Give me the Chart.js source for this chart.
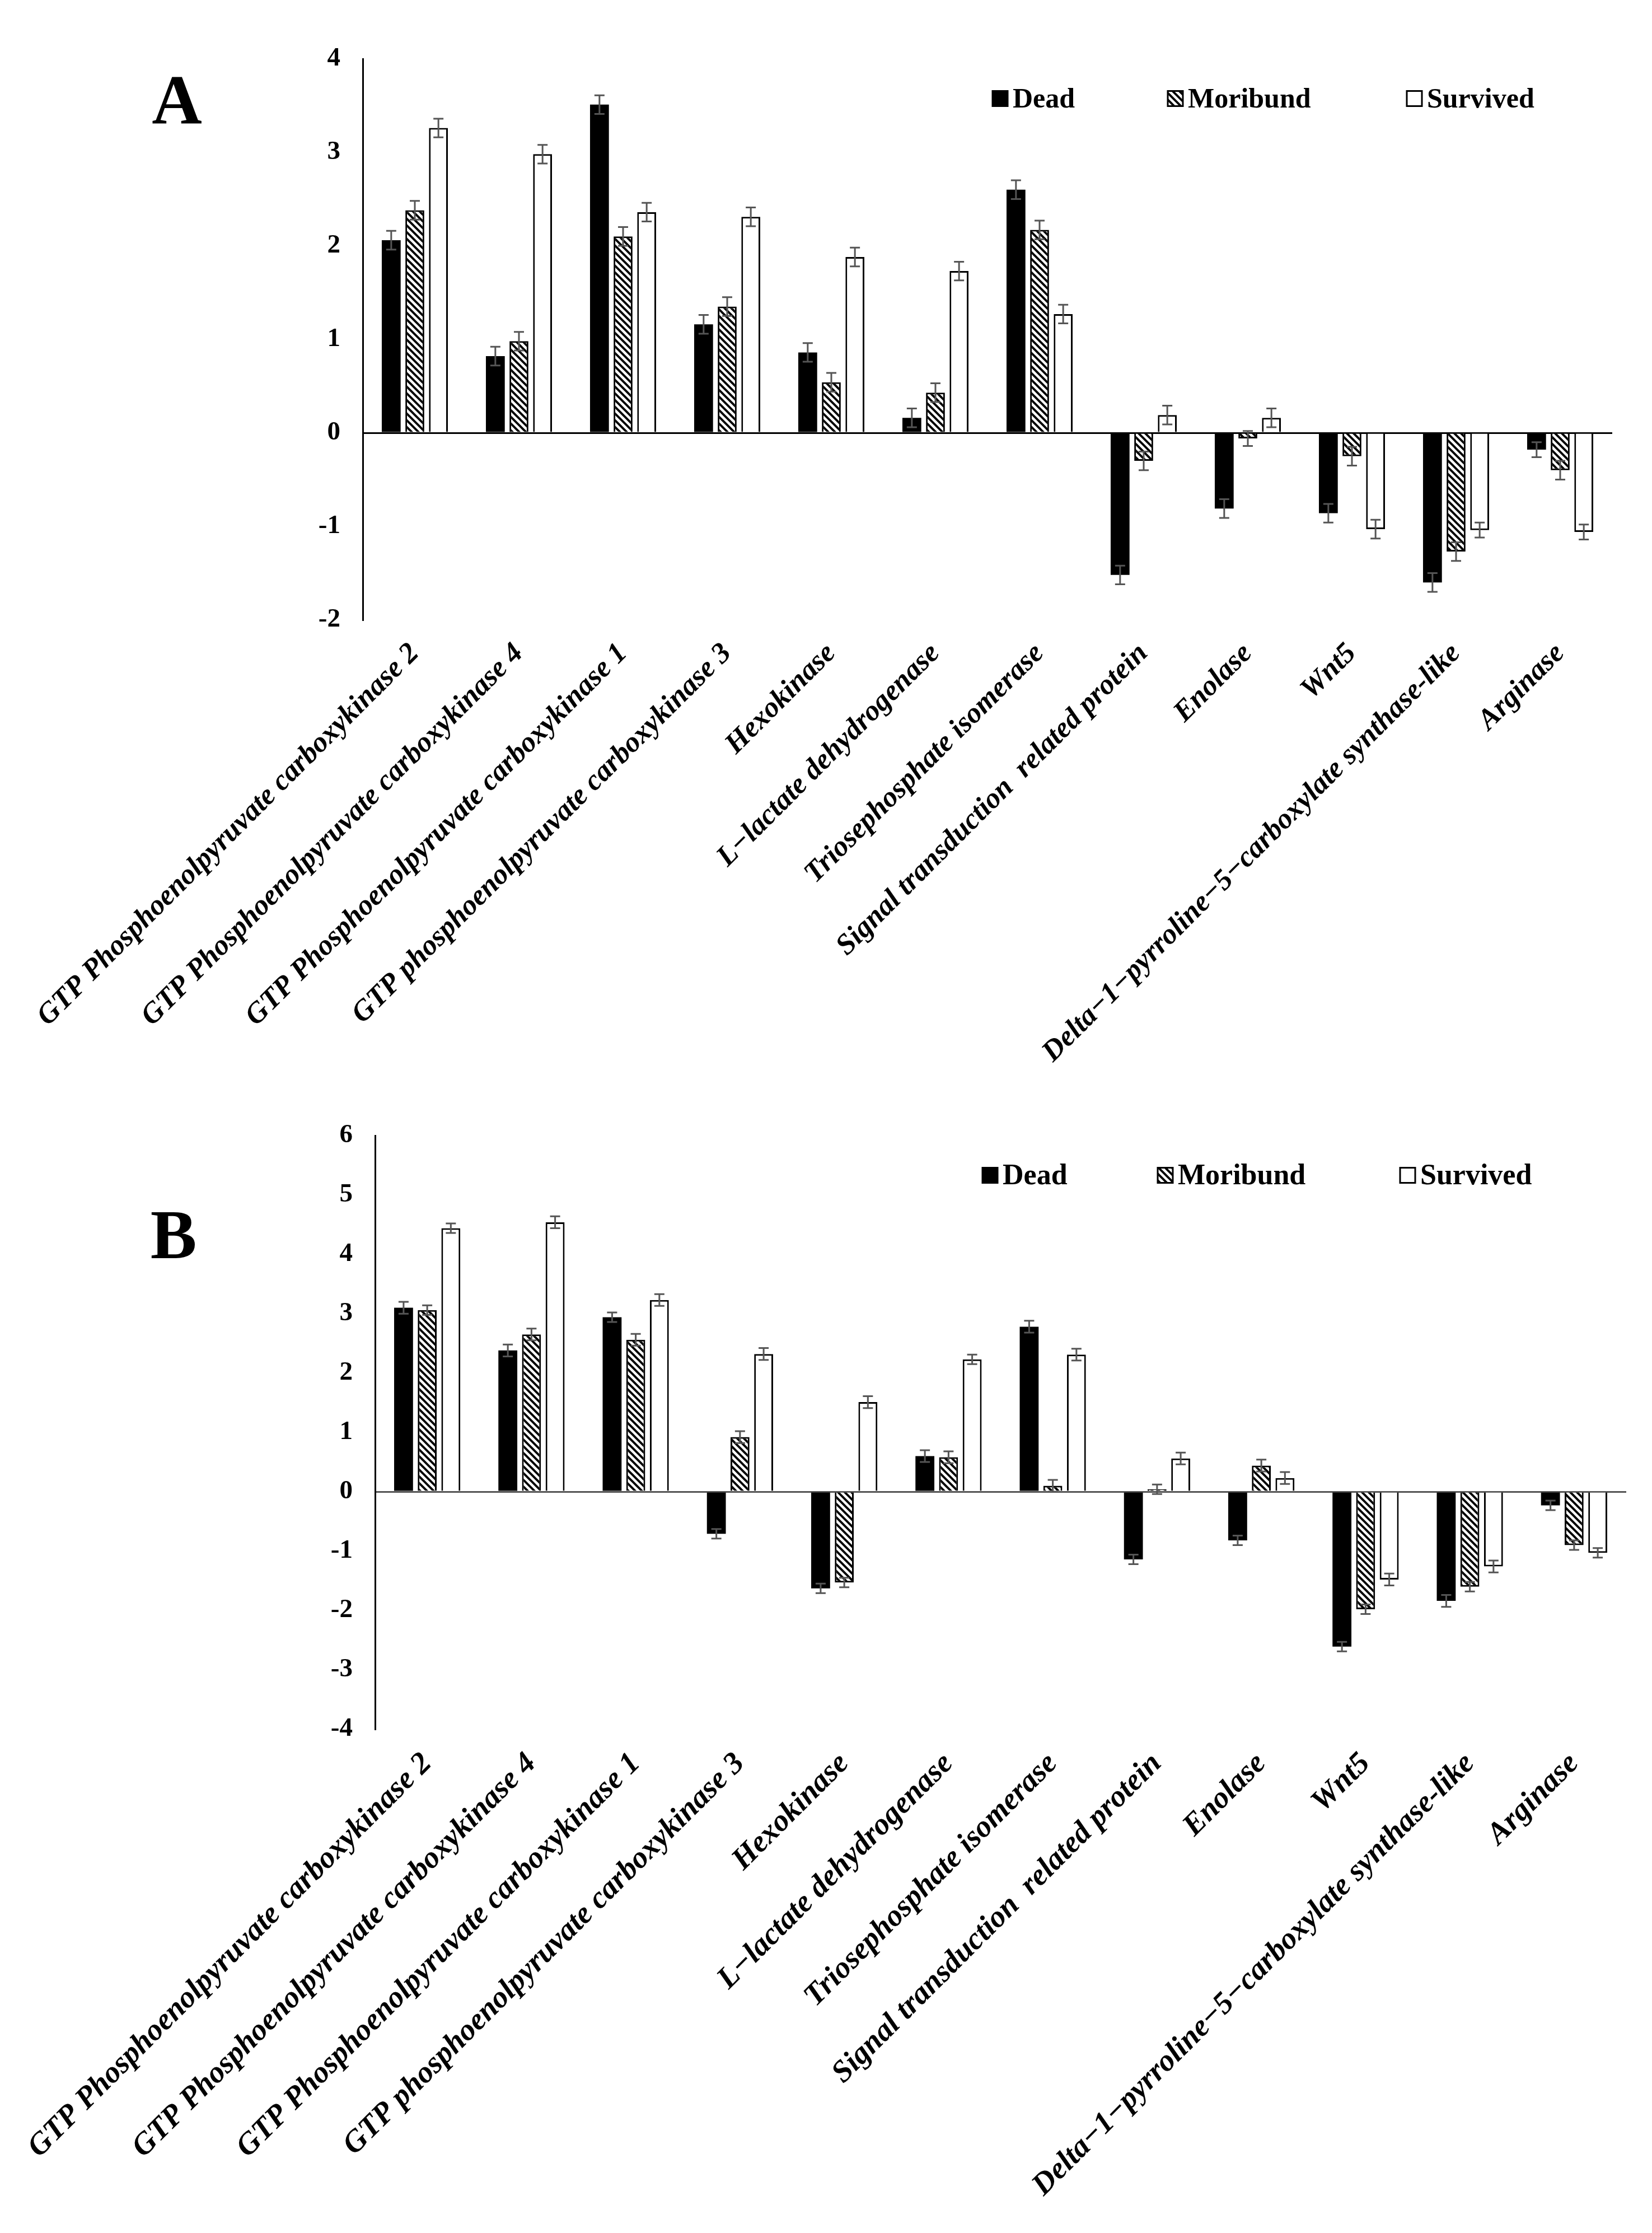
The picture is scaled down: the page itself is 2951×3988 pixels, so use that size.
<!DOCTYPE html>
<html>
<head>
<meta charset="utf-8">
<script src="https://cdn.jsdelivr.net/npm/chart.js@4.4.1/dist/chart.umd.min.js"></script>
<style>
  html, body { margin: 0; padding: 0; background: #fff; }
  canvas { position: absolute; left: 0; }
  #chartA { top: 0; }
  #chartB { top: 1960px; }
</style>
</head>
<body>
<canvas id="chartA" width="2951" height="1960"></canvas>
<canvas id="chartB" width="2951" height="2028"></canvas>
<script>
// data
const categories = [
  'GTP Phosphoenolpyruvate carboxykinase 2',
  'GTP Phosphoenolpyruvate carboxykinase 4',
  'GTP Phosphoenolpyruvate carboxykinase 1',
  'GTP phosphoenolpyruvate carboxykinase 3',
  'Hexokinase',
  'L\u2212lactate dehydrogenase',
  'Triosephosphate isomerase',
  'Signal transduction  related protein',
  'Enolase',
  'Wnt5',
  'Delta\u22121\u2212pyrroline\u22125\u2212carboxylate synthase-like',
  'Arginase'
];
const seriesNames = ['Dead', 'Moribund', 'Survived'];

// panel A
const deadA     = [2.06, 0.82, 3.51, 1.16, 0.86, 0.16, 2.60, -1.52, -0.81, -0.86, -1.60, -0.18];
const moribundA = [2.38, 0.98, 2.10, 1.35, 0.54, 0.43, 2.17, -0.30, -0.06, -0.25, -1.27, -0.40];
const survivedA = [3.26, 2.98, 2.36, 2.31, 1.88, 1.73, 1.27, 0.19, 0.16, -1.03, -1.04, -1.06];
const deadErrA     = [0.10, 0.10, 0.10, 0.10, 0.10, 0.10, 0.10, 0.10, 0.10, 0.10, 0.10, 0.08];
const moribundErrA = [0.10, 0.10, 0.10, 0.10, 0.10, 0.10, 0.10, 0.10, 0.08, 0.10, 0.10, 0.10];
const survivedErrA = [0.10, 0.10, 0.10, 0.10, 0.10, 0.10, 0.10, 0.10, 0.10, 0.10, 0.08, 0.08];
const yTicksA = [-2, 4];

// panel B
const deadB     = [3.10, 2.38, 2.94, -0.71, -1.63, 0.60, 2.78, -1.14, -0.82, -2.61, -1.84, -0.23];
const moribundB = [3.06, 2.65, 2.56, 0.92, -1.53, 0.58, 0.10, 0.04, 0.44, -1.98, -1.60, -0.90];
const survivedB = [4.44, 4.54, 3.23, 2.32, 1.51, 2.23, 2.31, 0.56, 0.23, -1.48, -1.26, -1.03];
const deadErrB     = [0.10, 0.10, 0.08, 0.08, 0.08, 0.10, 0.10, 0.08, 0.08, 0.08, 0.10, 0.08];
const moribundErrB = [0.08, 0.10, 0.10, 0.10, 0.08, 0.10, 0.10, 0.08, 0.10, 0.08, 0.08, 0.08];
const survivedErrB = [0.08, 0.10, 0.10, 0.10, 0.10, 0.08, 0.10, 0.10, 0.10, 0.10, 0.10, 0.08];
const yTicksB = [-4, 6];

const SERIF = "'Liberation Serif', 'Times New Roman', serif";

// diagonal hatch like the excel pattern fill
function makeHatch() {
  const c = document.createElement('canvas');
  c.width = 12; c.height = 12;
  const g = c.getContext('2d');
  g.fillStyle = '#fff';
  g.fillRect(0, 0, 12, 12);
  g.strokeStyle = '#000';
  g.lineWidth = 4;
  g.beginPath();
  g.moveTo(-3, -3); g.lineTo(15, 15);
  g.moveTo(-3, 9); g.lineTo(3, 15);
  g.moveTo(9, -3); g.lineTo(15, 3);
  g.stroke();
  return g.createPattern(c, 'repeat');
}
const hatch = makeHatch();
const fills = ['#000', hatch, '#fff'];

const errorBars = {
  id: 'errorBars',
  afterDatasetsDraw(chart) {
    const ctx = chart.ctx;
    const y = chart.scales.y;
    ctx.save();
    ctx.strokeStyle = '#555';
    ctx.lineWidth = 3;
    chart.data.datasets.forEach((ds, i) => {
      chart.getDatasetMeta(i).data.forEach((bar, j) => {
        const v = ds.data[j], e = ds.errors[j];
        const y1 = y.getPixelForValue(v + e), y2 = y.getPixelForValue(v - e);
        ctx.beginPath();
        ctx.moveTo(bar.x, y1); ctx.lineTo(bar.x, y2);
        ctx.moveTo(bar.x - 9, y1); ctx.lineTo(bar.x + 9, y1);
        ctx.moveTo(bar.x - 9, y2); ctx.lineTo(bar.x + 9, y2);
        ctx.stroke();
      });
    });
    ctx.restore();
  }
};

// panel letter and the legend inside the plot
const panelDecor = {
  id: 'panelDecor',
  afterDraw(chart, args, o) {
    const ctx = chart.ctx;
    ctx.save();
    ctx.fillStyle = '#000';
    ctx.font = 'bold 124px ' + SERIF;
    ctx.textAlign = 'center';
    ctx.textBaseline = 'middle';
    ctx.fillText(o.letter, o.letterX, o.letterY);

    ctx.font = 'bold ' + o.legendSize + 'px ' + SERIF;
    ctx.textAlign = 'left';
    chart.data.datasets.forEach((ds, i) => {
      const x = o.legendX[i];
      const s = 27;
      ctx.fillStyle = ds.backgroundColor;
      ctx.fillRect(x, o.legendY - s / 2, s, s);
      ctx.lineWidth = 3;
      ctx.strokeStyle = '#000';
      ctx.strokeRect(x, o.legendY - s / 2, s, s);
      ctx.fillStyle = '#000';
      ctx.fillText(ds.label, x + s + 9, o.legendY + 3);
    });
    ctx.restore();
  }
};

function makeChart(id, series, errs, range, geo) {
  const datasets = series.map((d, i) => ({
    label: seriesNames[i],
    data: d,
    errors: errs[i],
    backgroundColor: fills[i],
    borderColor: '#000',
    borderWidth: i === 0 ? 0 : 3,
    barPercentage: 0.8,
    categoryPercentage: 0.68
  }));
  return new Chart(document.getElementById(id), {
    type: 'bar',
    data: { labels: categories, datasets },
    options: {
      responsive: false,
      animation: false,
      layout: { padding: { top: geo.top, right: geo.right, left: 0, bottom: 0 } },
      plugins: {
        legend: { display: false },
        tooltip: { enabled: false },
        panelDecor: geo.decor
      },
      scales: {
        x: {
          grid: { display: false },
          border: { display: false },
          ticks: {
            autoSkip: false,
            minRotation: 45,
            maxRotation: 45,
            padding: geo.labelPad,
            color: '#000',
            font: { family: SERIF, size: geo.labelSize, weight: 'bold', style: 'italic' }
          },
          afterFit(scale) { scale.height = geo.xHeight; }
        },
        y: {
          min: range[0],
          max: range[1],
          ticks: {
            stepSize: 1,
            padding: 40,
            color: '#000',
            font: { family: SERIF, size: 47, weight: 'bold' }
          },
          grid: {
            drawTicks: false,
            color: c => c.tick && c.tick.value === 0 ? geo.zeroColor : 'rgba(0,0,0,0)',
            lineWidth: 3
          },
          border: { display: true, color: '#000', width: 3 },
          afterFit(scale) { scale.width = geo.yWidth; }
        }
      }
    },
    plugins: [errorBars, panelDecor]
  });
}

makeChart('chartA', [deadA, moribundA, survivedA], [deadErrA, moribundErrA, survivedErrA], yTicksA, {
  top: 105, right: 71, xHeight: 1960 - 1107, yWidth: 648,
  labelSize: 52, labelPad: 22, zeroColor: '#000',
  decor: { letter: 'A', letterX: 316, letterY: 188, legendY: 176, legendSize: 50, legendX: [1773, 2086, 2513] }
});

makeChart('chartB', [deadB, moribundB, survivedB], [deadErrB, moribundErrB, survivedErrB], yTicksB, {
  top: 62, right: 46, xHeight: 2028 - 1128, yWidth: 670,
  labelSize: 55, labelPad: 22, zeroColor: '#555',
  decor: { letter: 'B', letterX: 310, letterY: 255, legendY: 139, legendSize: 52, legendX: [1755, 2068, 2501] }
});
</script>
</body>
</html>
